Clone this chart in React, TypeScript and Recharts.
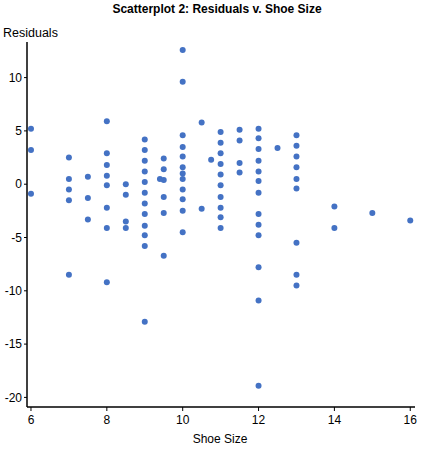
import { ScatterChart, Scatter, XAxis, YAxis } from "recharts";

// shoe sizes and the residuals observed at each size
const shoeSizes = [6, 7, 7.5, 8, 8.5, 9, 9.4, 9.5, 10, 10.5, 10.75, 11, 11.5, 12, 12.5, 13, 14, 15, 16];
const residualsBySize = [
  [5.2, 3.2, -0.9],
  [2.5, 0.5, -0.5, -1.5, -8.5],
  [0.7, -1.3, -3.3],
  [5.9, 2.9, 1.8, 0.8, -0.1, -2.2, -4.1, -9.2],
  [0, -1, -3.5, -4.1],
  [4.2, 3.2, 2.2, 1.2, 0.2, -0.8, -1.8, -2.8, -3.9, -4.8, -5.8, -12.9],
  [0.5],
  [2.4, 1.4, 0.4, -1.2, -2.7, -6.7],
  [12.6, 9.6, 4.6, 3.5, 2.6, 1.6, 1.0, 0.5, -0.5, -1.4, -2.5, -4.5],
  [5.8, -2.3],
  [2.3],
  [4.9, 3.9, 2.9, 1.9, 0.9, -0.1, -1.2, -2.2, -3.1, -4.1],
  [5.1, 4.1, 2.0, 1.1],
  [5.2, 4.3, 3.3, 2.2, 1.2, 0.3, -0.8, -2.8, -3.8, -4.8, -7.8, -10.9, -18.9],
  [3.4],
  [4.6, 3.6, 2.6, 1.6, 0.5, -0.4, -5.5, -8.5, -9.5],
  [-2.1, -4.1],
  [-2.7],
  [-3.4],
];
const xTicks = [6, 8, 10, 12, 14, 16];
const yTicks = [-20, -15, -10, -5, 0, 5, 10];

const points = shoeSizes.flatMap((size, i) =>
  residualsBySize[i].map((r) => ({ size, residual: r }))
);

const font = "'Liberation Sans', Arial, sans-serif";
const tickStyle = { fill: "#000", fontSize: 12, fontFamily: font };

const Dot = (props: any) => <circle cx={props.cx} cy={props.cy} r={3} fill="#4472C4" />;

export default function App() {
  return (
    <div style={{ position: "absolute", left: 0, top: 0, width: 434, height: 450, background: "#fff", fontFamily: font }}>
      <div style={{ position: "absolute", top: 2, left: 0, width: 434, textAlign: "center", fontSize: 12, fontWeight: "bold" }}>
        Scatterplot 2: Residuals v. Shoe Size
      </div>
      <div style={{ position: "absolute", top: 26, left: 3, fontSize: 12.5 }}>Residuals</div>
      <div style={{ position: "absolute", top: 432, left: 0, width: 440, textAlign: "center", fontSize: 12 }}>Shoe Size</div>
      <ScatterChart width={434} height={450} margin={{ top: 42, right: 19, bottom: 0, left: 0 }}>
        <XAxis
          type="number"
          dataKey="size"
          domain={[5.895, 16.125]}
          ticks={xTicks}
          height={43}
          tick={tickStyle}
          tickSize={4}
          tickMargin={4}
          axisLine={{ stroke: "#000", strokeWidth: 1.5 }}
          tickLine={{ stroke: "#000" }}
          allowDataOverflow
        />
        <YAxis
          type="number"
          dataKey="residual"
          domain={[-20.9, 13.34]}
          ticks={yTicks}
          width={27}
          tick={tickStyle}
          tickSize={3}
          tickMargin={2}
          axisLine={{ stroke: "#000", strokeWidth: 1.5 }}
          tickLine={{ stroke: "#000" }}
          allowDataOverflow
        />
        <Scatter data={points} shape={Dot} isAnimationActive={false} />
      </ScatterChart>
    </div>
  );
}
